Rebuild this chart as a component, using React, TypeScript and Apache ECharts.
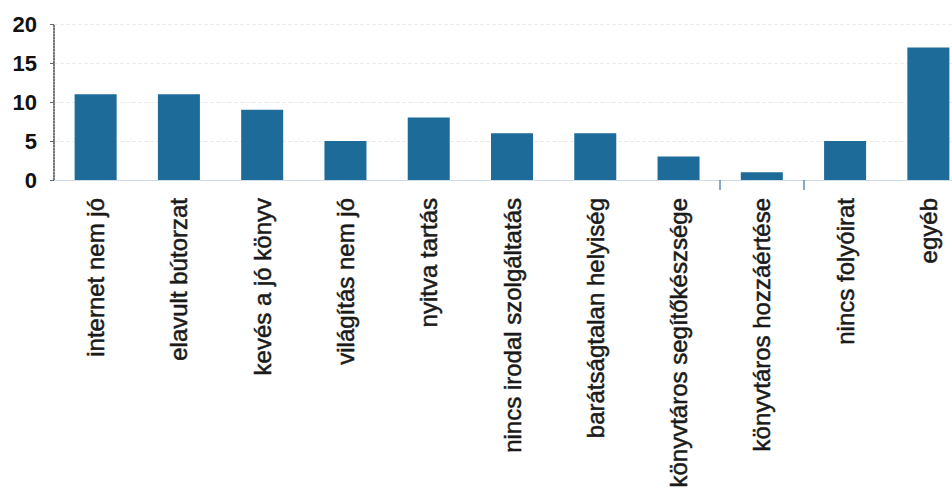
import React, { useEffect, useRef } from "react";
import * as echarts from "echarts";

const categories: string[] = [
  "internet nem jó",
  "elavult bútorzat",
  "kevés a jó könyv",
  "világítás nem jó",
  "nyitva tartás",
  "nincs irodal szolgáltatás",
  "barátságtalan helyiség",
  "könyvtáros segítőkészsége",
  "könyvtáros hozzáértése",
  "nincs folyóirat",
  "egyéb",
];

const values: number[] = [11, 11, 9, 5, 8, 6, 6, 3, 1, 5, 17];

const yTicks: number[] = [0, 5, 10, 15, 20];

const visibleXTicks: number[] = [8, 9];

export default function App() {
  const ref = useRef<HTMLDivElement>(null);

  useEffect(() => {
    if (!ref.current) return;
    const chart = echarts.init(ref.current, null, { renderer: "svg" });
    chart.setOption({
      animation: false,
      backgroundColor: "#ffffff",
      grid: {
        left: 54,
        top: 24,
        width: 916,
        height: 156,
        containLabel: false,
        outerBoundsMode: "none",
      },
      xAxis: {
        type: "category",
        data: categories,
        boundaryGap: true,
        axisLine: {
          show: true,
          lineStyle: { color: "#c9d6e0", type: "dotted", width: 1 },
        },
        axisTick: {
          show: true,
          length: 10,
          interval: (index: number) => visibleXTicks.includes(index),
          lineStyle: { color: "#5b8fb5", width: 1.5 },
        },
        axisLabel: {
          rotate: 90,
          interval: 0,
          margin: 18,
          fontSize: 24,
          fontFamily: "Liberation Sans, Arial, sans-serif",
          color: "#1a1a1a",
          textBorderColor: "#1a1a1a",
          textBorderWidth: 0.5,
        },
        splitLine: { show: false },
      },
      yAxis: {
        type: "value",
        min: yTicks[0],
        max: yTicks[yTicks.length - 1],
        interval: 5,
        axisLine: {
          show: true,
          lineStyle: { color: "#444", type: "dotted", width: 1.5 },
        },
        axisTick: {
          show: true,
          length: 4,
          lineStyle: { color: "#666" },
        },
        axisLabel: {
          margin: 17,
          fontSize: 22,
          fontWeight: "bold",
          fontFamily: "Liberation Sans, Arial, sans-serif",
          color: "#111",
        },
        splitLine: {
          show: true,
          lineStyle: { color: "#ececec", type: "dashed", width: 1 },
        },
      },
      series: [
        {
          type: "bar",
          data: values,
          barWidth: 42,
          itemStyle: { color: "#1c6b99" },
        },
      ],
    });
    return () => chart.dispose();
  }, []);

  return (
    <div
      ref={ref}
      style={{ position: "absolute", left: 0, top: 0, width: 952, height: 493 }}
    />
  );
}
